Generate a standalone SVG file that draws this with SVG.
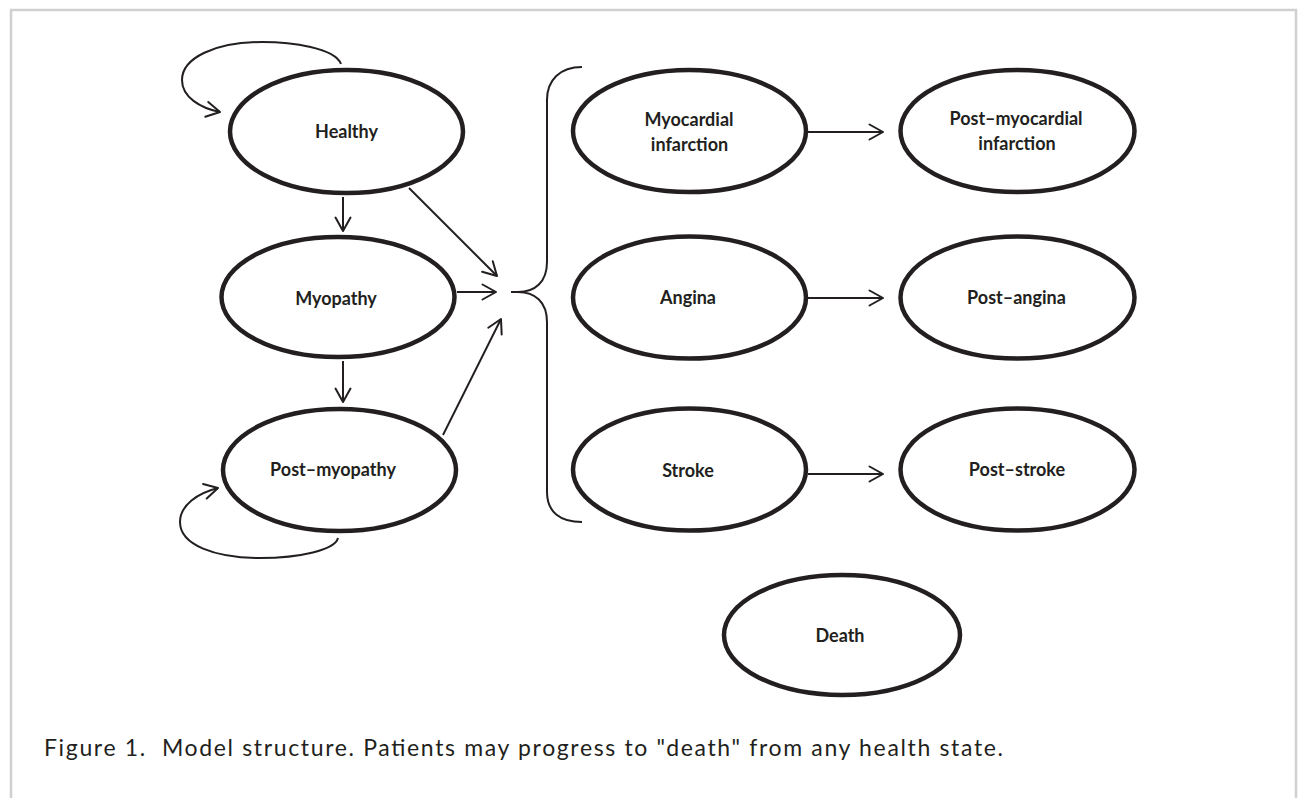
<svg xmlns="http://www.w3.org/2000/svg" width="1307" height="798" viewBox="0 0 1307 798">
<style>
.node ellipse{fill:#fff;stroke:#231f20;stroke-width:4.5}
.node text{font-family:Lato,"Noto Sans",sans-serif;font-weight:700;font-size:18px;fill:#231f20;text-anchor:middle}
.conn{fill:none;stroke:#231f20;stroke-width:2}
.arr{marker-end:url(#chev)}
.cap{font-family:Lato,"Noto Sans",sans-serif;font-size:23px;fill:#231f20;white-space:pre}
</style>
<defs>
<marker id="chev" markerUnits="userSpaceOnUse" viewBox="0 0 18 18" markerWidth="18" markerHeight="18" refX="15" refY="9" orient="auto">
<path d="M1.5,1.5 L15,9 L1.5,16.5" fill="none" stroke="#231f20" stroke-width="2" stroke-linejoin="round" stroke-linecap="round"/>
</marker>
</defs>
<rect x="0" y="0" width="1307" height="798" fill="#fff"/>
<rect x="11" y="10" width="1285" height="800" fill="none" stroke="#d0d0d0" stroke-width="2.5"/>

<g id="connectors">
<path class="conn arr" d="M341,64 C335,48 292,42 262,42 C215,42 182,58 182,80 C182,97 200,108 220,112"/>
<path class="conn arr" d="M343,197 L343,231"/>
<path class="conn arr" d="M409,188 L497,276"/>
<path class="conn arr" d="M457,292 L496,292"/>
<path class="conn arr" d="M343,361 L343,402"/>
<path class="conn arr" d="M443,435 L501,319"/>
<path class="conn arr" d="M338,538 C335,550 300,558 260,558 C215,558 180,545 180,522 C180,505 198,493 218,488"/>
<path class="conn arr" d="M808,132 L883,132"/>
<path class="conn arr" d="M808,298 L883,298"/>
<path class="conn arr" d="M808,474 L883,474"/>
<path id="brace" class="conn" d="M582,67 C560,67 547,80 547,100 L547,262 C547,282 535,292 518,292 L511,292 M518,292 C535,292 547,302 547,322 L547,492 C547,512 560,522 582,522"/>
</g>

<g id="healthy" class="node"><ellipse cx="346.5" cy="131.5" rx="116.5" ry="61.5"/><text x="346.5" y="138">Healthy</text></g>
<g id="myopathy" class="node"><ellipse cx="338" cy="297" rx="116.5" ry="60"/><text x="336" y="305">Myopathy</text></g>
<g id="post-myopathy" class="node"><ellipse cx="339.5" cy="470" rx="116.5" ry="61"/><text x="333" y="476">Post–myopathy</text></g>
<g id="mi" class="node"><ellipse cx="689.5" cy="131" rx="116.5" ry="61"/><text x="689" y="126">Myocardial</text><text x="689.5" y="151">infarction</text></g>
<g id="angina" class="node"><ellipse cx="689.5" cy="297.5" rx="116.5" ry="61"/><text x="688" y="304">Angina</text></g>
<g id="stroke" class="node"><ellipse cx="689.5" cy="469.5" rx="116.5" ry="61"/><text x="688" y="477">Stroke</text></g>
<g id="post-mi" class="node"><ellipse cx="1017.5" cy="131" rx="117" ry="61"/><text x="1016" y="125">Post–myocardial</text><text x="1017" y="150">infarction</text></g>
<g id="post-angina" class="node"><ellipse cx="1017.5" cy="297.5" rx="117" ry="61"/><text x="1016.5" y="304">Post–angina</text></g>
<g id="post-stroke" class="node"><ellipse cx="1017.5" cy="469.5" rx="117" ry="61"/><text x="1017" y="476">Post–stroke</text></g>
<g id="death" class="node"><ellipse cx="842" cy="635" rx="118" ry="60"/><text x="840" y="642">Death</text></g>

<text class="cap" x="44" y="756" textLength="959" lengthAdjust="spacing">Figure 1.  Model structure. Patients may progress to "death" from any health state.</text>
</svg>
